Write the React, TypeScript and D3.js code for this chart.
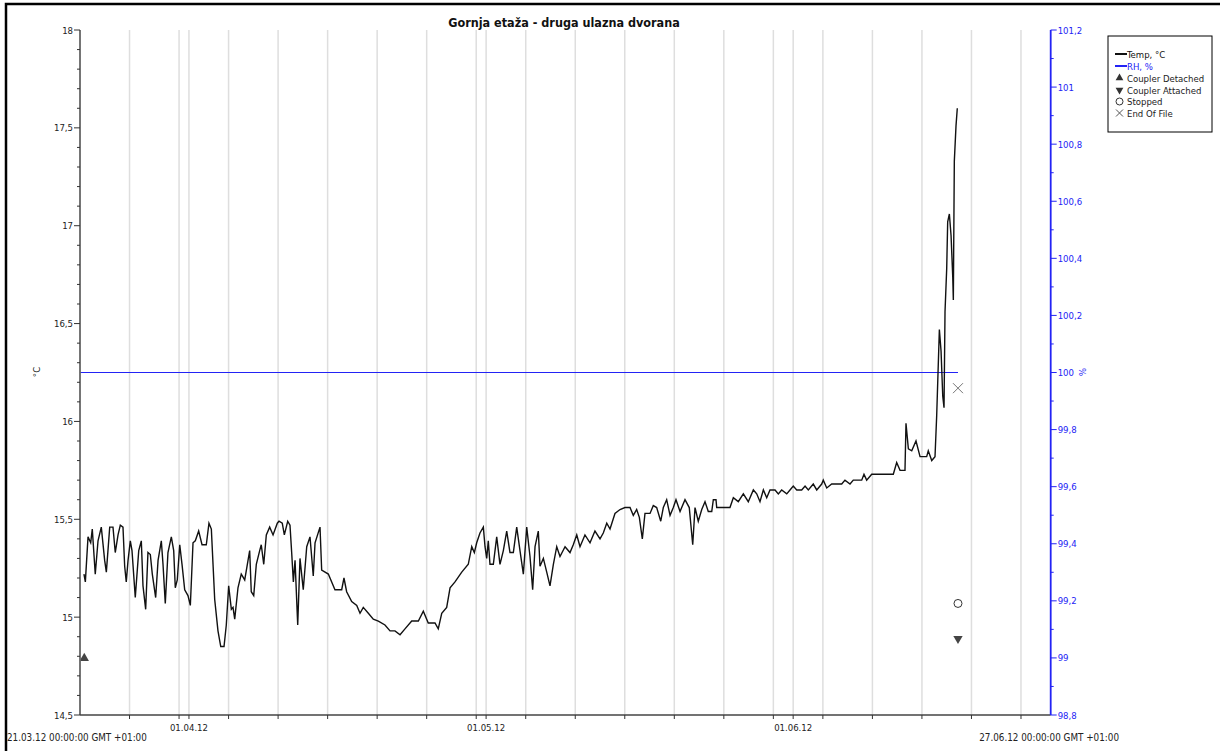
import React from "react";
import * as d3 from "d3";

// Gornja etaža - temperature logger export
const START = new Date(Date.UTC(2012, 2, 21));
const END = new Date(Date.UTC(2012, 5, 27));

// day offset from 21.03.12 00:00
const tempDays = [
  0.40, 0.54, 0.81, 1.08, 1.24, 1.54, 1.82, 2.15, 2.49, 2.66, 3.00, 3.33, 3.56, 3.84, 4.07, 4.34,
  4.51, 4.67, 4.85, 5.08, 5.25, 5.58, 5.93, 6.19, 6.36, 6.63, 6.86, 7.10, 7.30, 7.64, 7.88, 8.21,
  8.38, 8.61, 8.88, 9.22, 9.46, 9.62, 9.82, 10.07, 10.30, 10.57, 10.90, 11.14, 11.41, 11.64, 11.98,
  12.32, 12.75, 13.02, 13.26, 13.43, 13.60, 13.93, 14.21, 14.54, 14.77, 15.01, 15.28, 15.45, 15.62,
  15.95, 16.28, 16.63, 17.13, 17.29, 17.54, 17.80, 18.14, 18.30, 18.55, 18.81, 19.15, 19.49, 19.92,
  20.09, 20.42, 20.63, 20.97, 21.20, 21.37, 21.54, 21.71, 21.98, 22.21, 22.54, 22.89, 23.22, 23.55,
  23.73, 24.23, 24.40, 25.07, 25.74, 26.42, 26.65, 26.92, 27.43, 27.94, 28.27, 28.60, 29.11, 29.61,
  30.12, 30.79, 31.30, 31.80, 32.31, 32.81, 33.49, 34.16, 34.66, 35.16, 35.84, 36.17, 36.52, 37.02,
  37.36, 37.86, 38.54, 39.20, 39.55, 39.81,
  40.05, 40.38, 40.72, 40.89, 41.06, 41.22, 41.39, 41.73, 42.07, 42.40, 42.74, 43.08, 43.41, 43.75,
  44.09, 44.42, 44.76, 45.10, 45.43, 45.70, 45.94, 46.27, 46.44, 46.78, 47.12, 47.45, 47.79, 48.13,
  48.46, 48.97, 49.47, 49.80, 50.15, 50.48, 50.98, 51.49, 51.99, 52.50, 52.83, 53.18, 53.51, 54.01,
  54.52, 55.02, 55.53, 55.86, 56.20, 56.47, 56.77, 57.04, 57.55, 57.88, 58.22, 58.63, 58.89, 59.23,
  59.57, 59.90, 60.17, 60.58, 61.08, 61.51,
  61.86, 62.09, 62.42, 62.77, 63.10, 63.43, 63.78, 63.94, 64.21, 64.28, 65.62, 65.96, 66.46, 66.97,
  67.47, 67.98, 68.32, 68.65, 68.99, 69.33, 69.66, 70.17, 70.50, 70.84, 71.35, 71.68, 72.01, 72.36,
  72.86, 73.20, 73.53, 74.03, 74.38, 74.88, 75.04, 75.39, 75.89, 76.90, 77.23, 77.74, 78.07, 78.92,
  79.15, 79.42, 79.93, 82.11,
  82.45, 82.79, 83.29, 83.39, 83.63, 83.97, 84.40, 84.81, 85.48, 85.64, 85.99, 86.32, 86.49, 86.76,
  86.93, 87.10, 87.23, 87.33, 87.50, 87.60, 87.77, 87.94, 88.11, 88.17, 88.27, 88.44, 88.57,
];

const tempValues = [
  15.22, 15.18, 15.41, 15.38, 15.45, 15.22, 15.39, 15.46, 15.29, 15.23, 15.46, 15.46, 15.33, 15.42, 15.47, 15.46,
  15.26, 15.18, 15.29, 15.39, 15.34, 15.10, 15.34, 15.39, 15.16, 15.04, 15.33, 15.32, 15.22, 15.10, 15.29, 15.39,
  15.27, 15.07, 15.33, 15.41, 15.34, 15.15, 15.19, 15.37, 15.27, 15.14, 15.11, 15.06, 15.38, 15.39, 15.44,
  15.37, 15.37, 15.48, 15.45, 15.27, 15.09, 14.93, 14.85, 14.85, 14.96, 15.16, 15.04, 15.05, 14.99,
  15.15, 15.22, 15.19, 15.34, 15.13, 15.11, 15.27, 15.34, 15.37, 15.27, 15.42, 15.46, 15.42, 15.48,
  15.49, 15.48, 15.42, 15.49, 15.47, 15.33, 15.18, 15.29, 14.96, 15.30, 15.14, 15.36, 15.41, 15.21,
  15.38, 15.46, 15.24, 15.22, 15.14, 15.14, 15.20, 15.13, 15.08, 15.06, 15.02, 15.05, 15.02, 14.99,
  14.98, 14.96, 14.93, 14.93, 14.91, 14.94, 14.98, 14.98, 15.03, 14.97, 14.97, 14.94, 15.02, 15.05,
  15.15, 15.18, 15.23, 15.27, 15.36, 15.33,
  15.38, 15.43, 15.46, 15.36, 15.30, 15.39, 15.27, 15.27, 15.41, 15.27, 15.34, 15.44, 15.33, 15.33,
  15.46, 15.34, 15.22, 15.46, 15.31, 15.14, 15.36, 15.44, 15.26, 15.30, 15.23, 15.16, 15.27, 15.36,
  15.31, 15.36, 15.33, 15.37, 15.42, 15.36, 15.42, 15.38, 15.44, 15.40, 15.43, 15.48, 15.45, 15.53,
  15.55, 15.56, 15.56, 15.52, 15.55, 15.51, 15.40, 15.53, 15.53, 15.57, 15.56, 15.49, 15.56, 15.60,
  15.52, 15.56, 15.60, 15.54, 15.60, 15.56,
  15.37, 15.56, 15.49, 15.55, 15.59, 15.54, 15.54, 15.60, 15.60, 15.56, 15.56, 15.61, 15.59, 15.63,
  15.59, 15.65, 15.63, 15.59, 15.65, 15.61, 15.65, 15.65, 15.63, 15.65, 15.63, 15.65, 15.67, 15.65,
  15.65, 15.67, 15.65, 15.68, 15.65, 15.68, 15.70, 15.66, 15.68, 15.68, 15.70, 15.68, 15.70, 15.70,
  15.73, 15.70, 15.73, 15.73,
  15.79, 15.75, 15.75, 15.99, 15.86, 15.85, 15.90, 15.82, 15.82, 15.85, 15.80, 15.82, 16.03, 16.47,
  16.36, 16.13, 16.07, 16.56, 16.78, 17.02, 17.06, 16.95, 16.74, 16.62, 17.33, 17.51, 17.60,
];

const rhDays = [0, 88.64];
const rhValues = [100, 100];

const markerNames = ["Coupler Detached", "Coupler Attached", "Stopped", "End Of File"];
const markerDays = [0.43, 88.64, 88.64, 88.64];
const markerValues = [14.79, 14.89, 15.07, 16.17];

const monthStarts = [new Date(Date.UTC(2012, 3, 1)), new Date(Date.UTC(2012, 4, 1)), new Date(Date.UTC(2012, 5, 1))];

const FONT = "'DejaVu Sans Condensed', 'DejaVu Sans', sans-serif";
const BLUE = "#2323f5";

const dayToDate = (d: number) => new Date(START.getTime() + d * 864e5);
const fmtComma = (v: number) => String(+v.toFixed(1)).replace(".", ",");
const fmtDay = d3.utcFormat("%d.%m.%y");

export default function App() {
  const left = 80, right = 1050.7, top = 30, bottom = 715;
  const x = d3.scaleUtc().domain([START, END]).range([left, right]);
  const yT = d3.scaleLinear().domain([14.5, 18]).range([bottom, top]);
  const yRH = d3.scaleLinear().domain([98.8, 101.2]).range([bottom, top]);

  const fiveDay = d3.range(5, 98, 5).map(dayToDate);
  const gridDates = [...fiveDay, ...monthStarts];

  const tempLine = d3.line<number>()
    .x((d) => x(dayToDate(tempDays[d])))
    .y((d) => yT(tempValues[d]));
  const rhLine = d3.line<number>()
    .x((d) => x(dayToDate(rhDays[d])))
    .y((d) => yRH(rhValues[d]));

  const leftMajor = d3.range(0, 8).map((i) => 14.5 + i * 0.5);
  const leftMinor = d3.range(0, 36).map((i) => 14.5 + i * 0.1).filter((_, i) => i % 5 !== 0);
  const rightMajor = d3.range(0, 13).map((i) => 98.8 + i * 0.2);
  const rightMinor = d3.range(0, 12).map((i) => 98.9 + i * 0.2);

  const tri = d3.symbol().type(d3.symbolTriangle).size(38)() as string;
  const markerPath = (i: number, cx: number, cy: number) => {
    if (i === 0) return <path d={tri} transform={`translate(${cx},${cy})`} fill="#444" />;
    if (i === 1) return <path d={tri} transform={`translate(${cx},${cy}) rotate(180)`} fill="#444" />;
    if (i === 2) return <circle cx={cx} cy={cy} r={4} fill="none" stroke="#333" strokeWidth={1} />;
    return (
      <path d={`M${cx - 5},${cy - 5}L${cx + 5},${cy + 5}M${cx + 5},${cy - 5}L${cx - 5},${cy + 5}`}
        stroke="#777" strokeWidth={1} fill="none" />
    );
  };

  const legendY = [54, 66, 78, 90, 101.5, 113];

  return (
    <svg width={1220} height={751} style={{ position: "absolute", left: 0, top: 0, background: "#fff" }}
      fontFamily={FONT}>
      <rect x={0} y={0} width={1220} height={751} fill="#fff" />
      <rect x={6} y={4} width={1230} height={770} fill="none" stroke="#000" strokeWidth={2.5} />

      {/* grid */}
      {gridDates.map((d, i) => (
        <line key={i} x1={x(d)} x2={x(d)} y1={top} y2={bottom} stroke="#dedede" strokeWidth={1.5} />
      ))}

      <text x={564} y={27} textAnchor="middle" fontWeight="bold" fontSize={12.5} fill="#111">
        Gornja etaža - druga ulazna dvorana
      </text>

      {/* RH line */}
      <path d={rhLine(d3.range(rhDays.length)) as string} fill="none" stroke={BLUE} strokeWidth={1.2} />

      {/* temperature */}
      <path d={tempLine(d3.range(tempDays.length)) as string} fill="none" stroke="#111" strokeWidth={1.4}
        strokeLinejoin="miter" />

      {/* markers */}
      {markerNames.map((n, i) => (
        <g key={n}>{markerPath(i, x(dayToDate(markerDays[i])), yT(markerValues[i]))}</g>
      ))}

      {/* left axis */}
      <line x1={left} x2={left} y1={top} y2={bottom} stroke="#666" strokeWidth={1.8} />
      {leftMajor.map((v) => (
        <g key={v}>
          <line x1={left - 6} x2={left} y1={yT(v)} y2={yT(v)} stroke="#333" />
          <text x={left - 7} y={yT(v) + 3.5} textAnchor="end" fontSize={9.5} fill="#222">{fmtComma(v)}</text>
        </g>
      ))}
      {leftMinor.map((v) => (
        <line key={v} x1={left - 3} x2={left} y1={yT(v)} y2={yT(v)} stroke="#333" />
      ))}
      <text transform={`translate(40,372) rotate(-90)`} textAnchor="middle" fontSize={9.5} fill="#222">°C</text>

      {/* bottom axis */}
      <line x1={left} x2={right} y1={bottom} y2={bottom} stroke="#444" strokeWidth={1.5} />
      {gridDates.map((d, i) => (
        <line key={i} x1={x(d)} x2={x(d)} y1={bottom} y2={bottom + 4} stroke="#333" />
      ))}
      {monthStarts.map((d, i) => (
        <text key={i} x={x(d)} y={731} textAnchor="middle" fontSize={9.5} fill="#222">{fmtDay(d)}</text>
      ))}
      <text x={7} y={741} fontSize={9.8} fill="#222">{fmtDay(START)} 00:00:00 GMT +01:00</text>
      <text x={1119} y={741} textAnchor="end" fontSize={9.8} fill="#222">{fmtDay(END)} 00:00:00 GMT +01:00</text>

      {/* right axis */}
      <line x1={right} x2={right} y1={top} y2={bottom} stroke={BLUE} strokeWidth={1.8} />
      {rightMajor.map((v) => (
        <g key={v}>
          <line x1={right} x2={right + 6} y1={yRH(v)} y2={yRH(v)} stroke={BLUE} />
          <text x={right + 7} y={yRH(v) + 3.5} fontSize={9.5} fill={BLUE}>{fmtComma(v)}</text>
        </g>
      ))}
      {rightMinor.map((v) => (
        <line key={v} x1={right} x2={right + 3} y1={yRH(v)} y2={yRH(v)} stroke={BLUE} />
      ))}
      <text transform={`translate(1079,372) rotate(90)`} textAnchor="middle" fontSize={9.5} fill={BLUE}>%</text>

      {/* legend */}
      <rect x={1108} y={36} width={104} height={96} fill="#fff" stroke="#000" strokeWidth={1} />
      <line x1={1115} x2={1127} y1={legendY[0]} y2={legendY[0]} stroke="#111" strokeWidth={2} />
      <text x={1127} y={legendY[0] + 3.5} fontSize={9.5} fill="#111">Temp, °C</text>
      <line x1={1115} x2={1127} y1={legendY[1]} y2={legendY[1]} stroke={BLUE} strokeWidth={2} />
      <text x={1127} y={legendY[1] + 3.5} fontSize={9.5} fill={BLUE}>RH, %</text>
      {markerNames.map((n, i) => (
        <g key={n}>
          {i === 3
            ? <path d={`M1116,${legendY[2 + i] - 3.5}L1123,${legendY[2 + i] + 3.5}M1123,${legendY[2 + i] - 3.5}L1116,${legendY[2 + i] + 3.5}`} stroke="#555" fill="none" />
            : i === 2
              ? <circle cx={1119.5} cy={legendY[2 + i]} r={3.5} fill="none" stroke="#333" />
              : <path d={d3.symbol().type(d3.symbolTriangle).size(26)() as string}
                  transform={`translate(1119.5,${legendY[2 + i]})${i === 1 ? " rotate(180)" : ""}`} fill="#333" />}
          <text x={1127} y={legendY[2 + i] + 3.5} fontSize={9.5} fill="#222">{n}</text>
        </g>
      ))}
    </svg>
  );
}
